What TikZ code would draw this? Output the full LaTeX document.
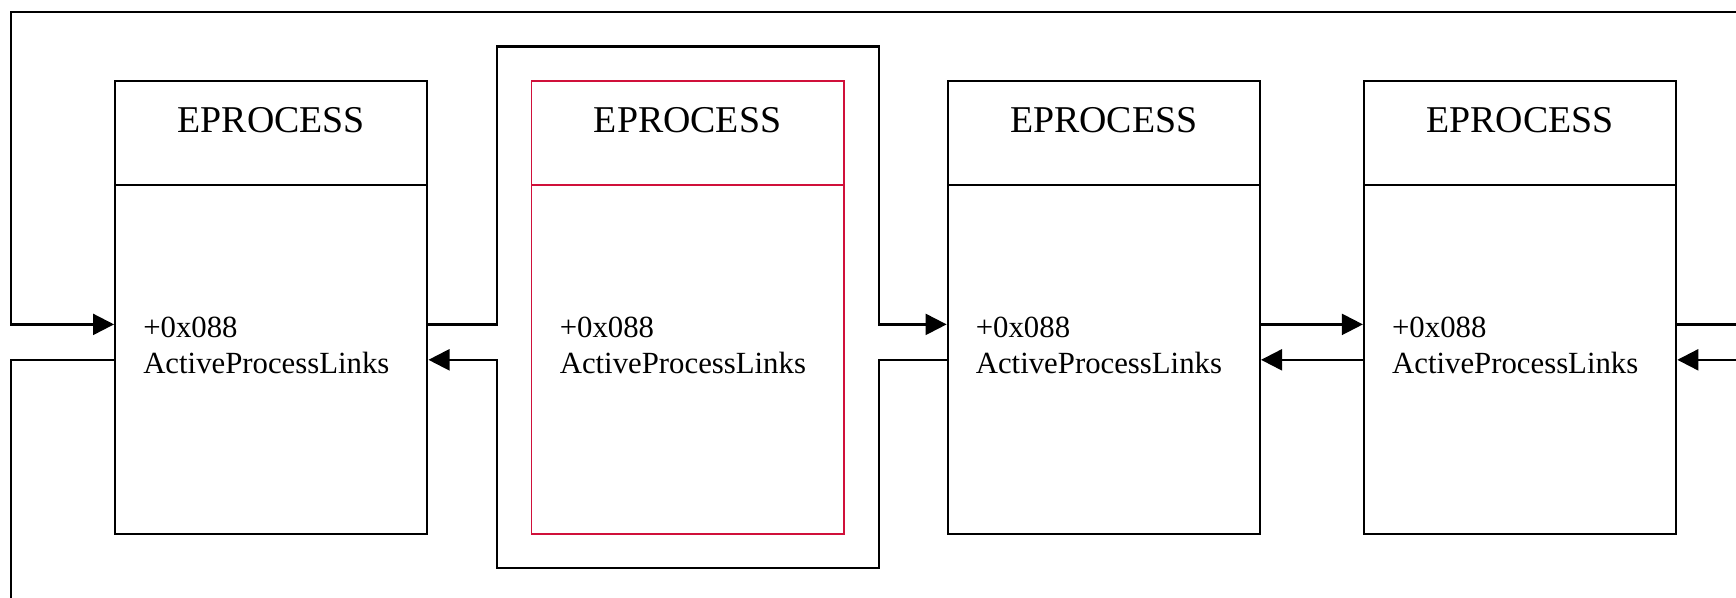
\documentclass[tikz,border=0pt]{standalone}
\usepackage{fontspec}
\setmainfont{Liberation Serif}
\usetikzlibrary{arrows.meta,calc}
\definecolor{selred}{RGB}{208,16,58}
\begin{document}
\begin{tikzpicture}[x=0.5pt,y=-0.5pt,
  link/.style={draw=black,line width=1pt},
  arr/.style={link,-{Triangle[length=9.5pt,width=9.5pt]}},
  hdr/.style={draw,line width=1pt,minimum width=141pt,minimum height=47pt,inner sep=0pt},
  bodybox/.style={draw,line width=1pt,minimum width=141pt,minimum height=157.5pt,inner sep=0pt},
  selbox/.style={draw=selred,line width=0.8pt},
  title/.style={inner sep=0pt,font=\fontsize{17.1}{20}\selectfont},
  fld/.style={anchor=west,align=left,inner sep=0pt,font=\fontsize{13.9}{16}\selectfont},
]
\useasboundingbox (0,0) rectangle (1568,540);

% rows where the list links meet the boxes
\coordinate (up) at (0,293);
\coordinate (dn) at (0,325);

% the four EPROCESS structures
\foreach \i/\x/\extra in {1/245/{},2/621/selbox,3/997/{},4/1373/{}}{
  \node[hdr,\extra] (h\i) at (\x,120) {};
  \node[bodybox,\extra] (b\i) at (\x,324.5) {};
  \node[title] (t\i) at (\x,108.5) {EPROCESS};
  \node[fld] (f\i) at ($(b\i.west)+(26,-12.5)$) {+0x088\\ActiveProcessLinks};
}

% outer wrap-around links on the left
\coordinate (tr) at (1570,11);
\coordinate (ltop) at (10,11);
\coordinate (lbot) at (10,545);
\draw[arr] (tr) -- (ltop) |- (b1.west |- up);
\draw[link] (b1.west |- dn) -| (lbot);

% links routed around the unlinked process
\coordinate (c1) at (449,42);
\coordinate (c2) at (794,42);
\coordinate (c3) at (794,513);
\coordinate (c4) at (449,513);
\draw[arr] (b1.east |- up) -| (c1) -- (c2) |- (b3.west |- up);
\draw[arr] (b3.west |- dn) -| (c3) -- (c4) |- (b1.east |- dn);

% links between neighbours
\draw[arr] (b3.east |- up) -- (b4.west |- up);
\draw[arr] (b4.west |- dn) -- (b3.east |- dn);

% links continuing off to the right
\coordinate (r1) at (1570,293);
\coordinate (r2) at (1570,325);
\draw[link] (b4.east |- up) -- (r1);
\draw[arr] (r2) -- (b4.east |- dn);
\end{tikzpicture}
\end{document}
